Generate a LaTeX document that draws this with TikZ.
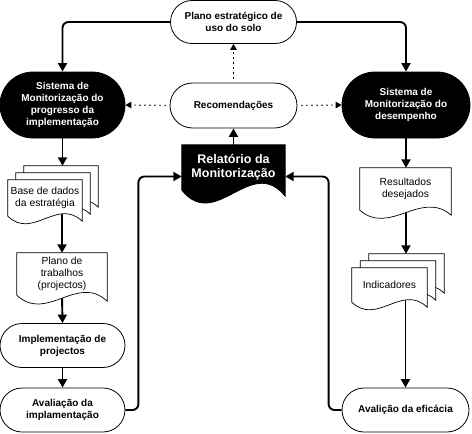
\documentclass[tikz,border=0pt]{standalone}
\usepackage{fontspec}
\setmainfont{Liberation Sans}
\usetikzlibrary{arrows.meta,calc}
\pgfdeclarelayer{bg}
\pgfdeclarelayer{docs}
\pgfsetlayers{bg,docs,main}
% #1 node, #2 style, #3 dx, #4 dy, #5 w/3, #6 wave height, #7 right drop
\newcommand\mydoc[7]{%
  \path[#2] ($(#1.north west)+(#3,#4)$) -- ($(#1.north east)+(#3,#4)$)
    -- ($(#1.south east)+(#3,#4+#7)$) .. controls +(-#5,-#6) and +(#5,#6) ..
    ($(#1.south west)+(#3,#4)$) -- cycle;}
\tikzset{
  term/.style={draw, fill=white, line width=0.8pt, rounded corners=22pt,
    minimum width=125pt, minimum height=44pt, inner sep=0pt, align=center,
    font=\bfseries\fontsize{10}{12}\selectfont},
  bterm/.style={term, fill=black, text=white, rounded corners=33pt, minimum height=66pt},
  doctext/.style={inner sep=0pt, align=center, font=\fontsize{10.3}{12}\selectfont},
  docw/.style={draw, fill=white, line width=0.7pt},
  docb/.style={draw, fill=black, line width=0.7pt},
  arr/.style={line width=1.9pt, -{Triangle[length=8.5pt,width=9pt]}},
  darr/.style={line width=1.2pt, dash pattern=on 1.2pt off 3.8pt, shorten <=4pt,
    -{Triangle[length=6pt,width=6.5pt]}},
}
\begin{document}
\begin{tikzpicture}[x=1pt,y=-1pt]
\useasboundingbox (0,0) rectangle (472,434);
% stadium nodes
\node[term, minimum width=126pt, minimum height=43pt, rounded corners=21.5pt] (plan) at (233.5,22) {Plano estratégico de\\uso do solo};
\node[bterm] (left) at (62.5,105) {Sistema de\\Monitorização do\\progresso da\\implementação};
\node[term, minimum width=127pt, minimum height=45pt, rounded corners=22.5pt] (rec) at (233.5,105.5) {Recomendações};
\node[bterm, minimum width=128pt] (right) at (406,105) {Sistema de\\Monitorização do\\desempenho};
\node[term] (impl) at (62.5,345.5) {Implementação de\\projectos};
\node[term] (aval) at (62.5,410) {Avaliação da\\implamentação};
\node[term, minimum width=127pt] (efic) at (405.5,410) {Avalição da eficácia};
% document nodes (text only; shapes drawn on docs layer)
\node[doctext, minimum width=103pt, minimum height=45pt, text=white,
  font=\bfseries\fontsize{12.5}{13.8}\selectfont] (rel) at (233.5,167.5) {Relatório da\\Monitorização};
\node[doctext, minimum width=74pt, minimum height=36pt] (base) at (45,198) {Base de dados\\da estratégia};
\node[doctext, minimum width=90pt, minimum height=42pt] (plt) at (62,274) {Plano de\\trabalhos\\(projectos)};
\node[doctext, minimum width=91pt, minimum height=42pt] (res) at (405.5,189) {Resultados\\desejados};
\node[doctext, minimum width=75pt, minimum height=34pt] (ind) at (389.5,285) {Indicadores};
\coordinate (basetop) at ($(base.north)+(16,-14)$);
\coordinate (indtop) at ($(ind.north)+(17,-14)$);
\begin{pgfonlayer}{docs}
  \mydoc{rel}{docb}{0}{0}{34}{42}{6}
  \mydoc{base}{docw}{16}{-14}{25}{24}{5}
  \mydoc{base}{docw}{8}{-7}{25}{24}{5}
  \mydoc{base}{docw}{0}{0}{25}{24}{5}
  \mydoc{plt}{docw}{0}{0}{30}{28}{6}
  \mydoc{res}{docw}{0}{0}{30}{26}{5}
  \mydoc{ind}{docw}{17}{-14}{25}{24}{5}
  \mydoc{ind}{docw}{8.5}{-7}{25}{24}{5}
  \mydoc{ind}{docw}{0}{0}{25}{24}{5}
\end{pgfonlayer}
\begin{pgfonlayer}{bg}
  \draw[arr, rounded corners=6pt] (plan.west) -| (left.north);
  \draw[arr, rounded corners=6pt] (plan.east) -| (right.north);
  \draw[darr] (rec.west) -- (left.east);
  \draw[darr] (rec.east) -- (right.west);
  \draw[darr] (rec.north) -- (plan.south);
  \draw[arr] (rel.north) -- (rec.south);
  \draw[arr] (left.south) -- (left.south |- basetop);
  \draw[arr] (plt.north |- base.center) -- (plt.north);
  \draw[arr] (plt.south) -- (impl.north);
  \draw[arr] (impl.south) -- (aval.north);
  \draw[arr, rounded corners=6pt] (aval.east) -- ++(13,0) |- ([yshift=-9pt]rel.west);
  \draw[arr, rounded corners=6pt] (efic.west) -- ++(-13,0) |- ([yshift=-9pt]rel.east);
  \draw[arr] (right.south) -- (right.south |- res.north);
  \draw[arr] (res.south -| right.south) -- (right.south |- indtop);
  \draw[arr] (efic.north |- ind.center) -- (efic.north);
\end{pgfonlayer}
\end{tikzpicture}
\end{document}
